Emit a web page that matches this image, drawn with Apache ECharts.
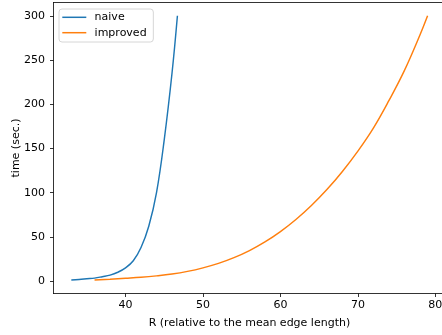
<!DOCTYPE html>
<html>
<head>
<meta charset="utf-8">
<script src="https://cdn.jsdelivr.net/npm/echarts@6/dist/echarts.min.js"></script>
<style>
  html, body { margin: 0; padding: 0; background: #fff; }
  #chart { width: 442px; height: 335px; }
</style>
</head>
<body>
<div id="chart"></div>
<script>
// Run time against R for the two approaches
const naiveR    = [33, 34, 35, 36, 37, 38, 39, 40, 41, 42, 43, 44, 45, 46, 46.7];
const naiveTime = [1.2, 1.8, 2.6, 3.4, 5.0, 6.8, 10, 15, 23, 38, 62, 100, 160, 235, 300];

const improvedR    = [36, 38, 40, 42, 44, 46, 48, 50, 52, 54, 56, 58, 60, 62, 64, 66, 68, 70, 72, 74, 76, 78, 79];
const improvedTime = [1.3, 2.2, 3.2, 4.3, 5.9, 8, 11, 15, 20, 26.5, 34.5, 44.3, 56, 69.7, 85.5, 103.5, 124, 147, 173, 204, 238, 278, 300];

const xTicks = [40, 50, 60, 70, 80];
const yTicks = [0, 50, 100, 150, 200, 250, 300];

const pairs = (xs, ys) => xs.map((x, i) => [x, ys[i]]);

const FONT = 'DejaVu Sans';
const FS = 11;
const chart = echarts.init(document.getElementById('chart'), null, { renderer: 'canvas' });

chart.setOption({
  animation: false,
  backgroundColor: '#fff',
  textStyle: { fontFamily: FONT },
  grid: {
    left: 53.5, top: 2.5, right: -3.4, bottom: 41.5,
    containLabel: false, outerBoundsMode: 'none'
  },
  legend: {
    left: 59, top: 9,
    orient: 'vertical',
    icon: 'rect',
    itemWidth: 24, itemHeight: 1.5, itemGap: 3.4,
    padding: [2.3, 6.7, 3.3, 3.3],
    borderColor: '#d6d6d6', borderWidth: 1, borderRadius: 3,
    backgroundColor: 'rgba(255,255,255,0.8)',
    textStyle: { fontFamily: FONT, fontSize: FS, lineHeight: 12, color: '#000', padding: [0, 0, 0, 3.3] },
    data: ['naive', 'improved']
  },
  xAxis: [{
    type: 'value', min: 30.7, max: 81.3,
    name: 'R (relative to the mean edge length)',
    nameLocation: 'middle', nameGap: 24.5, nameMoveOverlap: false,
    nameTextStyle: { fontFamily: FONT, fontSize: FS, color: '#000' },
    axisLine: { show: true, onZero: false, lineStyle: { color: '#000', width: 0.8 } },
    axisTick: { show: true, length: 3.5, lineStyle: { color: '#000', width: 0.8 }, customValues: xTicks },
    axisLabel: { fontFamily: FONT, fontSize: FS, color: '#000', margin: 6, customValues: xTicks },
    splitLine: { show: false }
  }, {
    type: 'value', position: 'top', min: 30.7, max: 81.3,
    axisLine: { show: true, onZero: false, lineStyle: { color: '#000', width: 0.8 } },
    axisTick: { show: false }, axisLabel: { show: false }, splitLine: { show: false }
  }],
  yAxis: {
    type: 'value', min: -14, max: 315,
    name: 'time (sec.)',
    nameLocation: 'middle', nameGap: 31.5, nameRotate: 90, nameMoveOverlap: false,
    nameTextStyle: { fontFamily: FONT, fontSize: FS, color: '#000' },
    axisLine: { show: true, onZero: false, lineStyle: { color: '#000', width: 0.8 } },
    axisTick: { show: true, length: 3.5, lineStyle: { color: '#000', width: 0.8 }, customValues: yTicks },
    axisLabel: { fontFamily: FONT, fontSize: FS, color: '#000', margin: 8.5, customValues: yTicks },
    splitLine: { show: false }
  },
  series: [{
    name: 'naive', type: 'line', xAxisIndex: 0,
    data: pairs(naiveR, naiveTime),
    smooth: 0.4,
    showSymbol: false, symbol: 'none',
    lineStyle: { color: '#1f77b4', width: 1.45 },
    itemStyle: { color: '#1f77b4' }
  }, {
    name: 'improved', type: 'line', xAxisIndex: 0,
    data: pairs(improvedR, improvedTime),
    smooth: 0.4,
    showSymbol: false, symbol: 'none',
    lineStyle: { color: '#ff7f0e', width: 1.45 },
    itemStyle: { color: '#ff7f0e' }
  }]
});
</script>
</body>
</html>
